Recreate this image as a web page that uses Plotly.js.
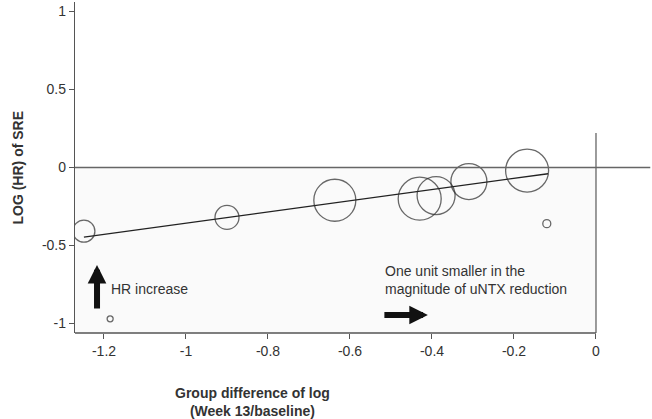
<!DOCTYPE html>
<html>
<head>
<meta charset="utf-8">
<script src="https://cdn.plot.ly/plotly-3.0.1.min.js"></script>
<style>
  html, body { margin: 0; padding: 0; background: #fff; }
  #plotly_graph { width: 652px; height: 419px; }
</style>
</head>
<body>
<div id="plotly_graph"></div>
<script>
// *********************************************************************************************
// DATA

// one bubble per study: x = group difference of log(week 13/baseline), y = log(HR)
const STUDY_X = [-1.249, -0.90, -0.637, -0.43, -0.39, -0.31, -0.168, -0.12, -1.185]
const STUDY_Y = [-0.408, -0.32, -0.21, -0.20, -0.18, -0.09, -0.02, -0.36, -0.97]
// bubble diameter (study weight)
const STUDY_SIZE = [22, 24, 42, 43, 38, 36, 43, 8, 6]

// fitted meta-regression line, end points
const FIT_X = [-1.249, -0.117]
const FIT_Y = [-0.447, -0.04]

const X_TICKS = [-1.2, -1, -0.8, -0.6, -0.4, -0.2, 0]
const X_LABELS = ['-1.2', '-1', '-0.8', '-0.6', '-0.4', '-0.2', '0']
const Y_TICKS = [-1, -0.5, 0, 0.5, 1]
const Y_LABELS = ['-1', '-0.5', '0', '0.5', '1']

const X_RANGE = [-1.2707, 0.1366]
const Y_RANGE = [-1.061, 1.061]

let graphDiv = document.getElementById('plotly_graph')

const FONT = 'Liberation Sans, Arial, sans-serif'
const INK = '#333'
const AXIS = '#555'


// *********************************************************************************************
// TRACES

let bubbles = {
    type: 'scatter',
    mode: 'markers',
    x: STUDY_X,
    y: STUDY_Y,
    marker: {
        size: STUDY_SIZE,
        color: 'rgba(0,0,0,0)',
        line: { color: '#2a2a2a', width: 1.3 }
    },
    hoverinfo: 'x+y'
}

let fit = {
    type: 'scatter',
    mode: 'lines',
    x: FIT_X,
    y: FIT_Y,
    line: { color: '#222', width: 1.3 },
    hoverinfo: 'skip'
}

let data = [fit, bubbles]


// *********************************************************************************************
// LAYOUT

let layout = {
    width: 652,
    height: 419,
    margin: { t: 2, r: 0, b: 86, l: 75 },
    paper_bgcolor: '#fff',
    plot_bgcolor: '#fff',
    showlegend: false,
    font: { family: FONT, size: 14, color: INK },

    xaxis: {
        range: X_RANGE,
        tickvals: X_TICKS,
        ticktext: X_LABELS,
        ticks: 'outside',
        ticklen: 5,
        tickcolor: AXIS,
        showline: false,
        showgrid: false,
        zeroline: false,
        tickfont: { size: 14, color: INK }
    },
    yaxis: {
        range: Y_RANGE,
        tickvals: Y_TICKS,
        ticktext: Y_LABELS,
        ticks: 'outside',
        ticklen: 5,
        tickcolor: AXIS,
        showline: true,
        linecolor: AXIS,
        linewidth: 1.3,
        showgrid: false,
        zeroline: false,
        tickfont: { size: 14, color: INK }
    },

    shapes: [
        // very light shading of the region below zero
        { type: 'rect', layer: 'below', xref: 'x', yref: 'y',
          x0: X_RANGE[0], x1: 0, y0: Y_RANGE[0], y1: 0,
          fillcolor: '#fafafa', line: { width: 0 } },
        // reference line at log(HR) = 0
        { type: 'line', xref: 'paper', yref: 'y', x0: 0, x1: 0.997, y0: 0, y1: 0,
          line: { color: '#666', width: 1.3 } },
        // vertical reference at x = 0
        { type: 'line', xref: 'x', yref: 'y', x0: 0, x1: 0, y0: Y_RANGE[0], y1: 0.221,
          line: { color: '#666', width: 1.3 } },
        // x axis line, stops at 0
        { type: 'line', xref: 'x', yref: 'paper', x0: X_RANGE[0], x1: 0, y0: 0, y1: 0,
          line: { color: AXIS, width: 1.3 } }
    ],

    annotations: [
        // axis titles
        { xref: 'paper', yref: 'paper', x: -0.1005, y: 0.5, textangle: -90,
          text: '<b>LOG (HR) of SRE</b>', showarrow: false,
          xanchor: 'center', yanchor: 'middle', font: { size: 14, color: INK } },
        { xref: 'paper', yref: 'paper', x: 0.307, y: -0.207,
          text: '<b>Group difference of log<br>(Week 13/baseline)</b>', showarrow: false,
          xanchor: 'center', yanchor: 'middle', font: { size: 14, color: INK } },

        // notes
        { xref: 'x', yref: 'y', x: -1.188, y: -0.779, text: 'HR increase',
          showarrow: false, xanchor: 'left', yanchor: 'middle', align: 'left',
          font: { size: 14, color: INK } },
        { xref: 'x', yref: 'y', x: -0.52, y: -0.724,
          text: 'One unit smaller in the<br>magnitude of uNTX reduction',
          showarrow: false, xanchor: 'left', yanchor: 'middle', align: 'left',
          font: { size: 14, color: INK } },

        // arrows
        { xref: 'x', yref: 'y', x: -1.217, y: -0.625, ax: 0, ay: 45, text: '',
          showarrow: true, arrowhead: 2, arrowwidth: 6, arrowsize: 0.62,
          arrowcolor: '#111', standoff: 0 },
        { xref: 'x', yref: 'y', x: -0.41, y: -0.946, ax: -45, ay: 0, text: '',
          showarrow: true, arrowhead: 2, arrowwidth: 6, arrowsize: 0.62,
          arrowcolor: '#111', standoff: 0 }
    ]
}


// *********************************************************************************************
// CONFIG

const config = {
    displaylogo: false,
    displayModeBar: false,
    responsive: false
}


// *********************************************************************************************
// CREATE AND APPEND

Plotly.newPlot(graphDiv, data, layout, config)
</script>
</body>
</html>
